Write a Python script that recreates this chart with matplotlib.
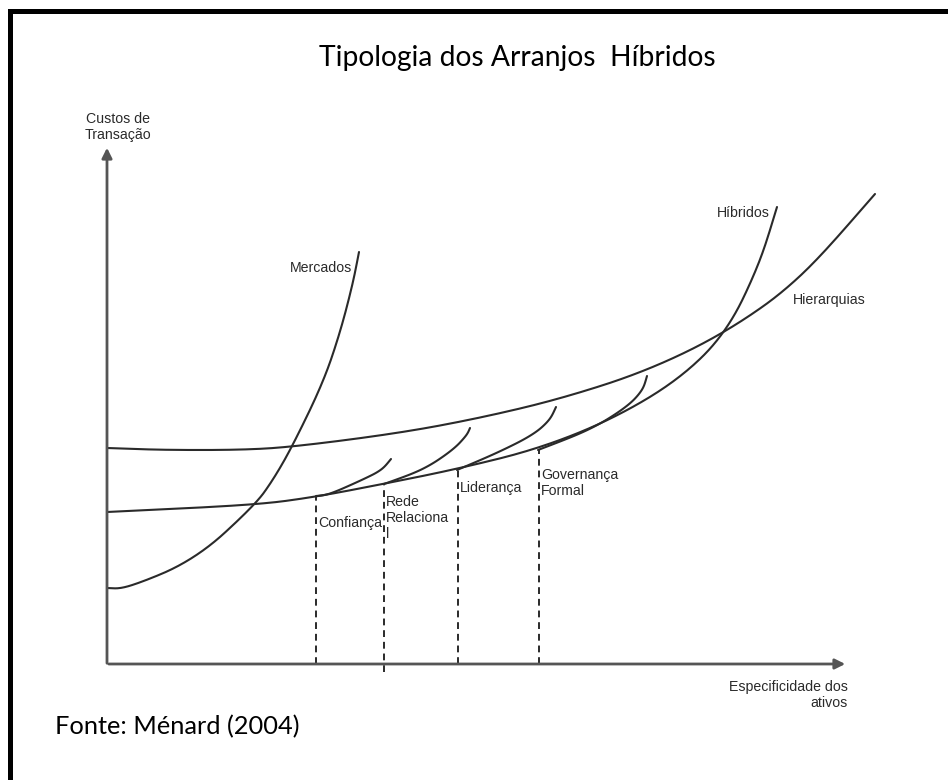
import numpy as np
import matplotlib.pyplot as plt
from matplotlib.lines import Line2D

# curvas (x = especificidade dos ativos, y = custos de transacao)
# origem = cruzamento dos eixos
hier_x = [0, 55, 133, 185, 293, 373, 453, 540, 620, 693, 768]
hier_y = [216, 214, 214, 217, 231, 246, 265, 293, 332, 384, 470]

hib_x = [0, 148, 208, 276, 350, 431, 506, 573, 620, 653, 670]
hib_y = [152, 159, 167, 180, 195, 215, 245, 285, 332, 401, 457]

merc_x = [0, 18, 88, 148, 166, 185, 216, 233, 246, 252]
merc_y = [76, 75, 104, 159, 184, 217, 281, 331, 381, 412]

# ramos dos arranjos hibridos
conf_x = [209, 221, 255, 275, 284]
conf_y = [168, 169, 184, 194, 205]
rede_x = [277, 316, 346, 360, 363]
rede_y = [180, 194, 214, 229, 236]
lider_x = [350, 390, 426, 443, 449]
lider_y = [194, 211, 229, 244, 257]
gov_x = [431, 483, 520, 536, 540]
gov_y = [214, 234, 257, 274, 288]

# linhas tracejadas
tracos_x = [209, 277, 351, 432]
tracos_topo = [168, 180, 194, 215]
tracos_base = [0, -8, 0, 0]

cinza = "#2a2a2a"
fonte_diag = "Liberation Sans"


def lisse(xs, ys, n_iter=5):
    # chaikin (corte de cantos) so para o traco ficar suave, pontas mantidas
    p = np.column_stack([xs, ys]).astype(float)
    for _ in range(n_iter):
        q = 0.75 * p[:-1] + 0.25 * p[1:]
        r = 0.25 * p[:-1] + 0.75 * p[1:]
        meio = np.empty((2 * len(q), 2))
        meio[0::2] = q
        meio[1::2] = r
        p = np.vstack([p[:1], meio[1:-1], p[-1:]])
    return p[:, 0], p[:, 1]


fig = plt.figure(figsize=(9.48, 7.8), dpi=100)
ax = fig.add_axes([0, 0, 1, 1])
ax.set_xlim(-107, 841)
ax.set_ylim(-116, 664)
ax.axis("off")

# eixos com setas
ax.annotate("", xy=(0, 519), xytext=(0, -2),
            arrowprops=dict(arrowstyle="-|>", color="#555555", lw=2, mutation_scale=15))
ax.annotate("", xy=(741, 0), xytext=(-1, 0),
            arrowprops=dict(arrowstyle="-|>", color="#555555", lw=2, mutation_scale=15))

for xs, ys in [(hier_x, hier_y), (hib_x, hib_y), (merc_x, merc_y),
               (conf_x, conf_y), (rede_x, rede_y), (lider_x, lider_y), (gov_x, gov_y)]:
    sx, sy = lisse(xs, ys)
    ax.plot(sx, sy, color=cinza, lw=1.5, solid_capstyle="round")

ax.vlines(tracos_x, tracos_base, tracos_topo, colors=cinza, lw=1.4,
          linestyles=(0, (3.5, 2.5)))

# rotulos do diagrama
kw = dict(fontsize=10.2, color=cinza, family=fonte_diag)
ax.text(11, 537, "Custos de\nTransação", ha="center", va="center", linespacing=1.2, **kw)
ax.text(245, 396, "Mercados", ha="right", va="center", **kw)
ax.text(663, 451, "Híbridos", ha="right", va="center", **kw)
ax.text(686, 364, "Hierarquias", ha="left", va="center", **kw)
ax.text(211, 141, "Confiança", ha="left", va="center", **kw)
ax.text(279, 146, "Rede\nRelaciona\nl", ha="left", va="center", linespacing=1.15, **kw)
ax.text(353, 176, "Liderança", ha="left", va="center", **kw)
ax.text(434, 181, "Governança\nFormal", ha="left", va="center", linespacing=1.15, **kw)
ax.text(741, -31, "Especificidade dos\nativos", ha="right", va="center",
        multialignment="right", linespacing=1.25, **kw)

fig.text(517 / 948, 0.926, "Tipologia dos Arranjos  Híbridos", ha="center", va="center",
         fontsize=20.3, family="Lato", color="black")
fig.text(0.058, 0.069, "Fonte: Ménard (2004)", ha="left", va="center",
         fontsize=18.3, family="Lato", color="black")

# moldura (so topo e lado esquerdo aparecem no recorte)
fig.add_artist(Line2D([9.5 / 948, 1], [1 - 10.5 / 780, 1 - 10.5 / 780],
                      transform=fig.transFigure, color="black", lw=3.6))
fig.add_artist(Line2D([9.5 / 948, 9.5 / 948], [0, 1 - 10.5 / 780],
                      transform=fig.transFigure, color="black", lw=3.6))

fig.savefig("out.png", dpi=100)
